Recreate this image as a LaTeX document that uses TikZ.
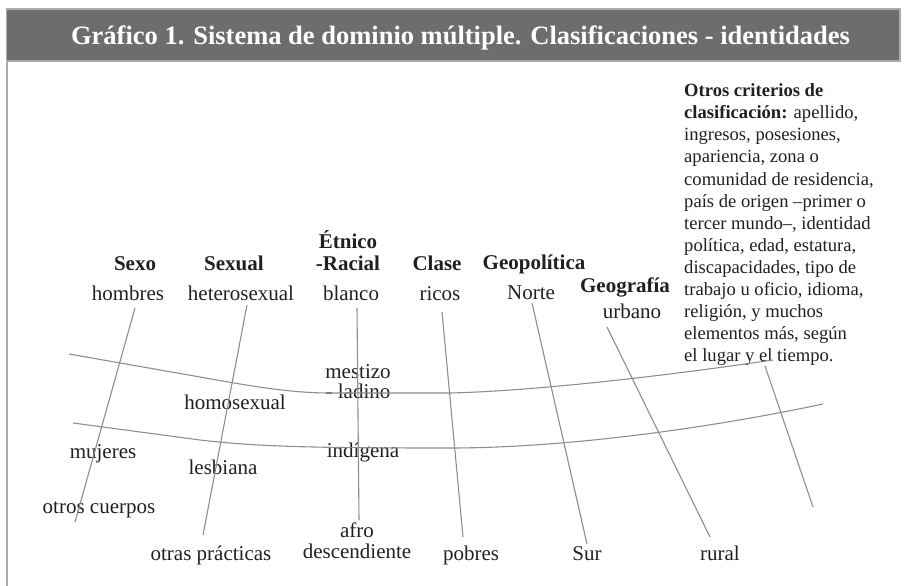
\documentclass[tikz,border=0pt]{standalone}
\usepackage{fontspec}
\setmainfont{Liberation Serif}
\definecolor{banda}{HTML}{6E6D6B}
\definecolor{borde}{HTML}{ABABAB}
\definecolor{linea}{HTML}{8E8E8E}
\definecolor{tinta}{HTML}{231F20}

\begin{document}
\begin{tikzpicture}[x=1pt,y=-1pt,
  every node/.style={inner sep=0pt,text=tinta},
  eje/.style={font=\fontsize{21}{22.5}\selectfont\bfseries,anchor=base},
  valor/.style={font=\fontsize{21}{20.5}\selectfont,anchor=base},
  traza/.style={draw=linea,line width=1.1pt}]

\useasboundingbox (0,0) rectangle (905,586);
\filldraw[fill=banda,draw=borde,line width=1.5pt] (6.5,9) rectangle (900,61);
\draw[borde,line width=2pt] (6.5,61) -- (6.5,586);

\node[anchor=base,text=white,font=\fontsize{26.5}{30}\selectfont\bfseries] (titulo) at (460.5,45) {Gráfico 1. Sistema de dominio múltiple. Clasificaciones - identidades};

\node[eje] (sexo) at (135,270) {Sexo};
\node[eje] (sexual) at (234,270) {Sexual};
\node[eje,anchor=north,align=center] (etnico) at (348,230) {Étnico\\-Racial};
\node[eje] (clase) at (437,270) {Clase};
\node[eje] (geopolitica) at (534,269) {Geopolítica};
\node[eje] (geografia) at (625,292) {Geografía};

\node[valor] (hombres) at (128,300) {hombres};
\node[valor] (heterosexual) at (241,300) {heterosexual};
\node[valor] (blanco) at (351,300) {blanco};
\node[valor] (ricos) at (440,300) {ricos};
\node[valor] (norte) at (531,299) {Norte};
\node[valor] (urbano) at (632,318) {urbano};

\node[valor,anchor=north,align=center] (mestizo) at (358,364) {mestizo\\- ladino};
\node[valor] (homosexual) at (235,409) {homosexual};
\node[valor] (mujeres) at (103,458) {mujeres};
\node[valor] (lesbiana) at (223,474) {lesbiana};
\node[valor] (indigena) at (363,457) {indígena};
\node[valor] (otroscuerpos) at (99,513) {otros cuerpos};
\node[valor,anchor=north,align=center,font=\fontsize{21}{21}\selectfont] (afro) at (357,523) {afro\\descendiente};
\node[valor] (otraspracticas) at (211,560) {otras prácticas};
\node[valor] (pobres) at (471,560) {pobres};
\node[valor] (sur) at (587,560) {Sur};
\node[valor] (rural) at (720,560) {rural};

\node[anchor=north west,align=left,font=\fontsize{18.6}{22.1}\selectfont] (otros) at (684,83.5) {\textbf{Otros criterios de}\\\textbf{clasificación:} apellido,\\ingresos, posesiones,\\apariencia, zona o\\comunidad de residencia,\\país de origen –primer o\\tercer mundo–, identidad\\política, edad, estatura,\\discapacidades, tipo de\\trabajo u oficio, idioma,\\religión, y muchos\\elementos más, según\\el lugar y el tiempo.};

\coordinate (sexoarriba) at (135,308);
\coordinate (sexoabajo) at (75,522);
\coordinate (sexualarriba) at (247,305);
\coordinate (sexualabajo) at (203,535);
\coordinate (etnicoarriba) at (357,308);
\coordinate (etnicoabajo) at (359,520);
\coordinate (clasearriba) at (442,312);
\coordinate (claseabajo) at (463,537);
\coordinate (geopoliticaarriba) at (532,303);
\coordinate (geopoliticaabajo) at (587,544);
\coordinate (geografiaarriba) at (607,327);
\coordinate (geografiaabajo) at (710,537);
\coordinate (otrosarriba) at (765,366);
\coordinate (otrosabajo) at (813,507);

\foreach \from/\to in {sexoarriba/sexoabajo, sexualarriba/sexualabajo, etnicoarriba/etnicoabajo, clasearriba/claseabajo, geopoliticaarriba/geopoliticaabajo, geografiaarriba/geografiaabajo, otrosarriba/otrosabajo}
	\draw[traza] (\from) -- (\to);

\coordinate (medioizq) at (69,354);
\coordinate (medioder) at (773,360);
\coordinate (bajoizq) at (73,423);
\coordinate (bajoder) at (823,404);

\draw[traza] (medioizq) -- (200,377) .. controls (250,386) and (290,393) .. (330,393) -- (450,393) .. controls (530,391) and (650,378) .. (medioder);
\draw[traza] (bajoizq) -- (200,440) .. controls (260,447) and (320,448) .. (450,448) .. controls (560,448) and (700,430) .. (bajoder);

\end{tikzpicture}
\end{document}
